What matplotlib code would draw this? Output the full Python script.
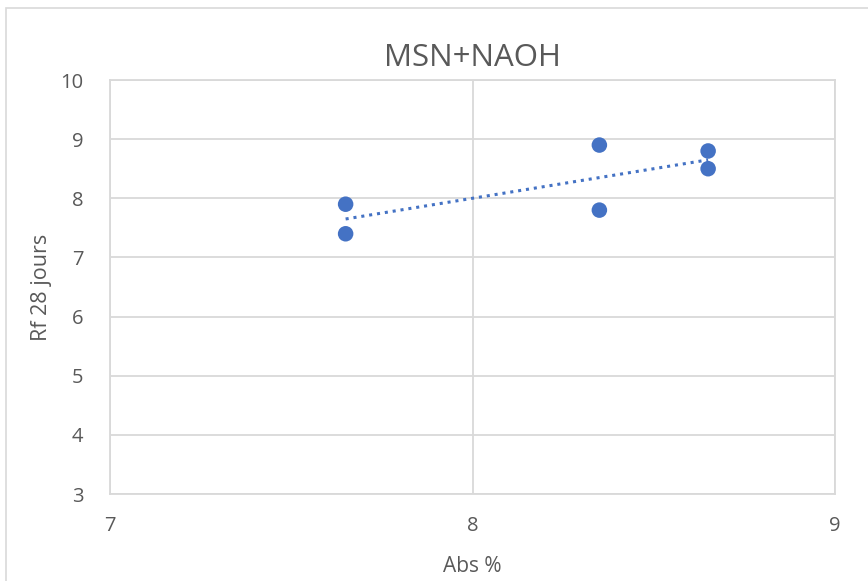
import numpy as np
import matplotlib
matplotlib.use("Agg")
import matplotlib.pyplot as plt
from matplotlib.patches import Rectangle

plt.rcParams['font.family'] = ['Liberation Sans Narrow', 'Open Sans', 'DejaVu Sans']

# Data
abs_pct = [7.65, 7.65, 8.35, 8.35, 8.65, 8.65]
rf_28 = [7.9, 7.4, 8.9, 7.8, 8.8, 8.5]
x_ticks = [7, 8, 9]
y_ticks = [3, 4, 5, 6, 7, 8, 9, 10]

W, H = 868, 581
fig = plt.figure(figsize=(W / 100, H / 100), dpi=100)
fig.patch.set_facecolor('white')

# chart-area frame
fig.add_artist(Rectangle((6 / W, -0.1), 1.2, 1 - 8 / H + 0.1, transform=fig.transFigure,
                         fill=False, edgecolor='#D9D9D9', linewidth=1.2))

ax = fig.add_axes([110 / W, 1 - 494 / H, (835 - 110) / W, (494 - 80) / H])
ax.set_xlim(7, 9)
ax.set_ylim(3, 10)
ax.set_xticks(x_ticks)
ax.set_yticks(y_ticks)
ax.grid(True, color='#D9D9D9', linewidth=1.3)
ax.set_axisbelow(True)
for s in ax.spines.values():
    s.set_color('#D9D9D9')
    s.set_linewidth(1.3)
ax.tick_params(length=0, labelsize=14.5, colors='#595959')
ax.tick_params(axis='y', pad=19)
ax.tick_params(axis='x', pad=16)

ax.scatter(abs_pct, rf_28, s=125, color='#4472C4', zorder=3, edgecolors='none')

# linear trend line
xs = np.array(abs_pct)
slope, intercept = np.polyfit(xs, rf_28, 1)
xl = np.array([xs.min(), xs.max()])
ax.plot(xl, slope * xl + intercept, linestyle=(0, (1, 1.6)), color='#4472C4',
        linewidth=2.2, zorder=2)

ax.set_title('MSN+NAOH', fontsize=22.5, color='#595959', pad=10)
ax.set_xlabel('Abs %', fontsize=15, color='#595959', labelpad=14)
ax.set_ylabel('Rf 28 jours', fontsize=15.5, color='#595959', labelpad=6)

fig.savefig('out.png', dpi=100)
